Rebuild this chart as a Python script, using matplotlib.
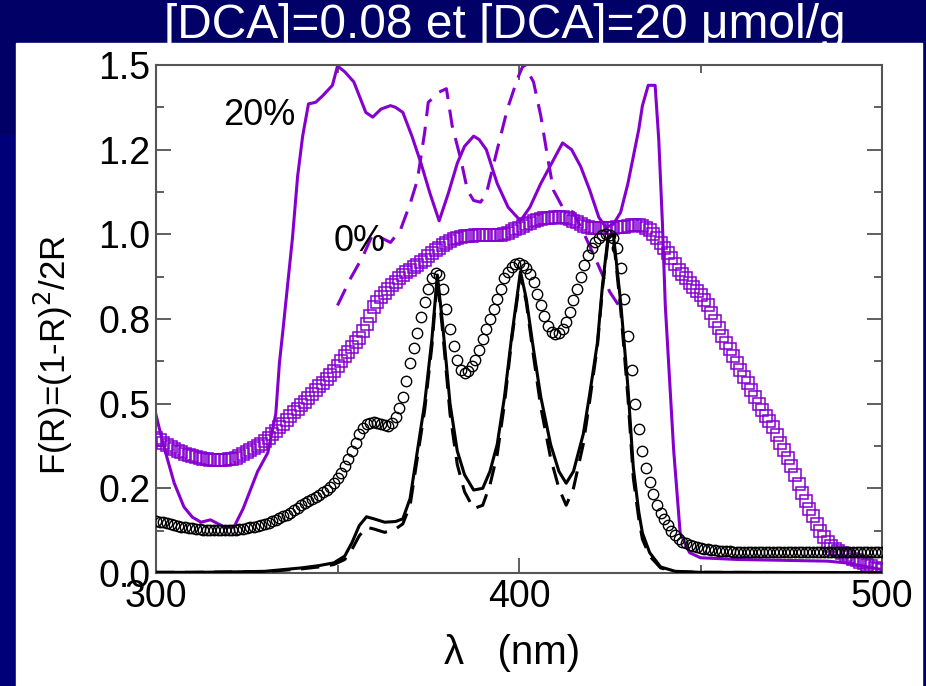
import matplotlib.pyplot as plt
from matplotlib.patches import Rectangle
from matplotlib.ticker import MultipleLocator, FixedLocator

plt.rcParams['font.family'] = ['Liberation Sans', 'DejaVu Sans']

violet = '#8500cf'

# black circles, 1 nm step (300..500)
x_circ = list(range(300, 501))
y_circ = [0.155, 0.152, 0.150, 0.147, 0.145, 0.142, 0.140, 0.137, 0.135, 0.133,
          0.132, 0.130, 0.129, 0.128, 0.127, 0.126, 0.126, 0.126, 0.126, 0.126,
          0.127, 0.127, 0.128, 0.130, 0.131, 0.133, 0.135, 0.137, 0.140, 0.143,
          0.146, 0.149, 0.153, 0.157, 0.162, 0.167, 0.172, 0.178, 0.185, 0.192,
          0.200, 0.206, 0.212, 0.218, 0.224, 0.231, 0.238, 0.246, 0.255, 0.266,
          0.280, 0.296, 0.315, 0.336, 0.360, 0.385, 0.410, 0.428, 0.440, 0.444,
          0.445, 0.443, 0.440, 0.437, 0.435, 0.443, 0.460, 0.487, 0.520, 0.567,
          0.620, 0.665, 0.710, 0.755, 0.800, 0.840, 0.870, 0.885, 0.880, 0.840,
          0.780, 0.720, 0.670, 0.630, 0.600, 0.592, 0.595, 0.610, 0.630, 0.658,
          0.690, 0.720, 0.750, 0.780, 0.810, 0.840, 0.870, 0.890, 0.905, 0.912,
          0.915, 0.910, 0.900, 0.883, 0.860, 0.825, 0.790, 0.758, 0.730, 0.713,
          0.705, 0.708, 0.720, 0.742, 0.770, 0.805, 0.840, 0.875, 0.910, 0.938,
          0.960, 0.977, 0.990, 0.997, 1.000, 0.998, 0.990, 0.960, 0.900, 0.810,
          0.700, 0.600, 0.500, 0.425, 0.360, 0.310, 0.270, 0.232, 0.200, 0.178,
          0.160, 0.142, 0.125, 0.111, 0.100, 0.093, 0.088, 0.084, 0.080, 0.077,
          0.075, 0.072, 0.070, 0.068, 0.067, 0.066, 0.065, 0.064, 0.064, 0.063,
          0.063, 0.063, 0.063, 0.063, 0.063, 0.063, 0.063, 0.063, 0.063, 0.063,
          0.063, 0.062, 0.062, 0.062, 0.062, 0.062, 0.062, 0.062, 0.062, 0.062,
          0.062, 0.062, 0.062, 0.062, 0.062, 0.062, 0.062, 0.062, 0.062, 0.062,
          0.062, 0.062, 0.062, 0.062, 0.062, 0.062, 0.062, 0.062, 0.062, 0.062,
          0.062]

# violet squares, 1 nm step (300..500)
x_sq = list(range(300, 501))
y_sq = [0.400, 0.392, 0.385, 0.378, 0.372, 0.366, 0.360, 0.356, 0.352, 0.348,
        0.345, 0.342, 0.340, 0.338, 0.336, 0.335, 0.334, 0.334, 0.334, 0.335,
        0.336, 0.338, 0.340, 0.345, 0.350, 0.356, 0.362, 0.368, 0.375, 0.382,
        0.390, 0.400, 0.410, 0.420, 0.430, 0.441, 0.452, 0.463, 0.475, 0.485,
        0.495, 0.506, 0.518, 0.529, 0.540, 0.551, 0.562, 0.573, 0.585, 0.597,
        0.610, 0.625, 0.640, 0.654, 0.668, 0.681, 0.695, 0.715, 0.735, 0.760,
        0.785, 0.800, 0.815, 0.828, 0.840, 0.850, 0.860, 0.870, 0.880, 0.888,
        0.895, 0.903, 0.910, 0.918, 0.925, 0.935, 0.945, 0.953, 0.960, 0.968,
        0.975, 0.980, 0.985, 0.989, 0.992, 0.994, 0.995, 0.996, 0.997, 0.997,
        0.997, 0.997, 0.997, 0.997, 0.998, 0.999, 1.000, 1.005, 1.010, 1.015,
        1.020, 1.025, 1.030, 1.034, 1.038, 1.042, 1.045, 1.047, 1.048, 1.049,
        1.050, 1.050, 1.050, 1.048, 1.045, 1.040, 1.035, 1.030, 1.025, 1.022,
        1.020, 1.019, 1.018, 1.018, 1.018, 1.019, 1.020, 1.021, 1.022, 1.023,
        1.025, 1.027, 1.028, 1.027, 1.025, 1.019, 1.012, 1.002, 0.990, 0.975,
        0.960, 0.945, 0.930, 0.912, 0.895, 0.882, 0.870, 0.857, 0.845, 0.832,
        0.820, 0.805, 0.790, 0.768, 0.745, 0.722, 0.700, 0.680, 0.660, 0.640,
        0.620, 0.600, 0.580, 0.560, 0.540, 0.520, 0.500, 0.482, 0.465, 0.448,
        0.430, 0.408, 0.385, 0.362, 0.340, 0.315, 0.290, 0.263, 0.236, 0.213,
        0.190, 0.167, 0.145, 0.125, 0.105, 0.092, 0.080, 0.072, 0.065, 0.058,
        0.052, 0.047, 0.042, 0.037, 0.033, 0.029, 0.025, 0.020, 0.015, 0.011,
        0.008]

# black solid line
x_blk = [300, 310, 320, 330, 335, 340, 345, 349, 352, 354, 356, 358, 360, 363,
         366, 368, 370, 372, 374, 376, 377.5, 379, 381, 383, 385, 387.5, 390,
         392, 394, 396, 398, 400.4, 402, 404, 406, 408.7, 411, 413, 415, 417.7,
         419.5, 421.6, 423, 424.5, 426, 428, 430, 431.5, 433, 434, 436, 439,
         443, 450, 500]
y_blk = [0.002, 0.002, 0.003, 0.005, 0.010, 0.015, 0.022, 0.030, 0.050, 0.090,
         0.140, 0.166, 0.160, 0.150, 0.152, 0.160, 0.220, 0.360, 0.500, 0.690,
         0.880, 0.730, 0.500, 0.360, 0.290, 0.245, 0.250, 0.300, 0.380, 0.520,
         0.700, 0.890, 0.810, 0.660, 0.520, 0.380, 0.300, 0.265, 0.300, 0.410,
         0.530, 0.680, 0.850, 0.990, 1.000, 0.800, 0.550, 0.310, 0.180, 0.118,
         0.060, 0.018, 0.005, 0.002, 0.001]

# black dashed line
x_blk_d = [300, 310, 320, 330, 335, 340, 345, 349, 352, 354, 356, 358, 360, 363,
           366, 368, 370, 372, 374, 376, 377.5, 379, 381, 383, 385, 387.5, 390,
           392, 394, 396, 398, 400.4, 402, 404, 406, 408.7, 411, 413, 415, 417.7,
           419.5, 421.6, 423, 424.5, 426, 428, 430, 431.5, 433, 434, 436, 439,
           443, 450, 500]
y_blk_d = [0.002, 0.002, 0.003, 0.004, 0.008, 0.012, 0.018, 0.025, 0.040, 0.070,
           0.110, 0.135, 0.130, 0.120, 0.130, 0.145, 0.200, 0.340, 0.480, 0.670,
           0.870, 0.710, 0.470, 0.320, 0.240, 0.190, 0.200, 0.260, 0.350, 0.500,
           0.690, 0.880, 0.800, 0.640, 0.490, 0.340, 0.250, 0.200, 0.250, 0.380,
           0.510, 0.670, 0.840, 0.980, 0.990, 0.780, 0.520, 0.280, 0.160, 0.100,
           0.050, 0.015, 0.004, 0.002, 0.001]

# violet solid line (20%)
x_v20 = [300, 302, 305, 307.7, 310, 312.4, 315, 318.8, 321.5, 324, 326, 328,
         330.8, 333, 334, 335, 337.6, 339, 340.4, 342, 344, 346, 348.6, 350, 352,
         354.5, 357.8, 359.7, 362, 364.6, 366, 368, 370.5, 373, 375.5, 378,
         380.5, 383, 385, 387.5, 389, 391, 394, 397, 400.4, 403, 406, 409, 412,
         414.5, 417, 419.5, 422, 424, 426, 428, 430, 431.5, 433, 434, 435.6,
         437.5, 438.5, 439.5, 440.3, 441, 442.6, 444.4, 447, 450, 460, 470, 480,
         485, 490, 495, 500]
y_v20 = [0.467, 0.380, 0.266, 0.195, 0.165, 0.150, 0.157, 0.136, 0.136, 0.190,
         0.245, 0.300, 0.355, 0.470, 0.620, 0.720, 0.990, 1.170, 1.290, 1.385,
         1.390, 1.410, 1.440, 1.497, 1.480, 1.450, 1.360, 1.346, 1.370, 1.380,
         1.375, 1.360, 1.290, 1.210, 1.120, 1.040, 1.120, 1.210, 1.260, 1.290,
         1.280, 1.250, 1.150, 1.080, 1.040, 1.080, 1.150, 1.210, 1.270, 1.250,
         1.200, 1.130, 1.050, 1.020, 1.030, 1.065, 1.150, 1.230, 1.310, 1.380,
         1.440, 1.440, 1.280, 1.035, 0.790, 0.660, 0.364, 0.118, 0.060, 0.045,
         0.040, 0.038, 0.036, 0.035, 0.030, 0.020, 0.010]

# violet dashed line (0%)
x_v0 = [350, 353.6, 357, 359.7, 362, 364.6, 367.4, 370, 372, 374, 375, 376.6,
        378, 380, 381.6, 384, 385.8, 387.5, 389.4, 391, 394, 396.8, 399.6,
        401.3, 404, 406, 408, 409.5, 412, 415, 418, 422, 425, 428.7]
y_v0 = [0.790, 0.870, 0.935, 1.000, 0.990, 0.976, 1.015, 1.090, 1.160, 1.300,
        1.390, 1.405, 1.420, 1.430, 1.320, 1.220, 1.130, 1.100, 1.095, 1.120,
        1.250, 1.370, 1.460, 1.503, 1.450, 1.350, 1.220, 1.130, 1.080, 1.065,
        1.000, 0.905, 0.830, 0.770]

y_ticks = [0.0, 0.25, 0.5, 0.75, 1.0, 1.25, 1.5]
y_ticklabels = ['0.0', '0.2', '0.5', '0.8', '1.0', '1.2', '1.5']
x_ticks = [300, 400, 500]

fig = plt.figure(figsize=(9.26, 6.86), dpi=100, facecolor='#000066')
# slide background pieces, behind the axes
fig.patches.append(Rectangle((0, 0), 16 / 926, (686 - 135) / 686,
                             transform=fig.transFigure, color='#00007a', zorder=-5))
fig.patches.append(Rectangle((16 / 926, 0), (922 - 16) / 926, (686 - 43) / 686,
                             transform=fig.transFigure, color='white', zorder=-5))

ax = fig.add_axes([156 / 926, (686 - 573) / 686, (882 - 156) / 926, (573 - 65) / 686])
ax.set_zorder(2)
ax.set_facecolor('white')

ax.plot(x_v20, y_v20, color=violet, lw=2.2, zorder=2)
ax.plot(x_v0, y_v0, color=violet, lw=2.2, ls=(0, (6, 3.5)), zorder=2)
ax.plot(x_sq, y_sq, ls='none', marker='s', ms=8, mfc='none', mec=violet, mew=1.1, zorder=3)
ax.plot(x_circ, y_circ, ls='none', marker='o', ms=7.5, mfc='none', mec='black', mew=1.0, zorder=4)
ax.plot(x_blk, y_blk, color='black', lw=2.2, zorder=5)
ax.plot(x_blk_d, y_blk_d, color='black', lw=2.2, ls=(0, (6, 3.5)), zorder=5)

ax.set_xlim(300, 500)
ax.set_ylim(0, 1.5)
ax.xaxis.set_major_locator(FixedLocator(x_ticks))
ax.xaxis.set_minor_locator(MultipleLocator(50))
ax.yaxis.set_major_locator(FixedLocator(y_ticks))
ax.set_yticklabels(y_ticklabels)
ax.yaxis.set_minor_locator(MultipleLocator(0.125))
ax.tick_params(which='both', direction='in', top=True, right=True, color='#444444',
               labelsize=27, pad=4)
ax.tick_params(which='major', length=11, width=1.2)
ax.tick_params(which='minor', length=6, width=1.2)
for s in ax.spines.values():
    s.set_color('#555555')
    s.set_linewidth(1.5)

ax.set_ylabel('F(R)=(1-R)$^2$/2R', fontsize=25)
ax.yaxis.set_label_coords(-0.112, 0.43)
ax.set_xlabel('λ   (nm)', fontsize=29)
ax.xaxis.set_label_coords(0.49, -0.12)

ax.text(328.5, 1.35, '20%', fontsize=26, ha='center', va='center')
ax.text(356, 0.98, '0%', fontsize=26, ha='center', va='center')

fig.text(0.545, 0.963, '[DCA]=0.08 et [DCA]=20 μmol/g', color='white',
         fontsize=34.5, ha='center', va='center')

fig.savefig('out.png', dpi=100, facecolor=fig.get_facecolor())
